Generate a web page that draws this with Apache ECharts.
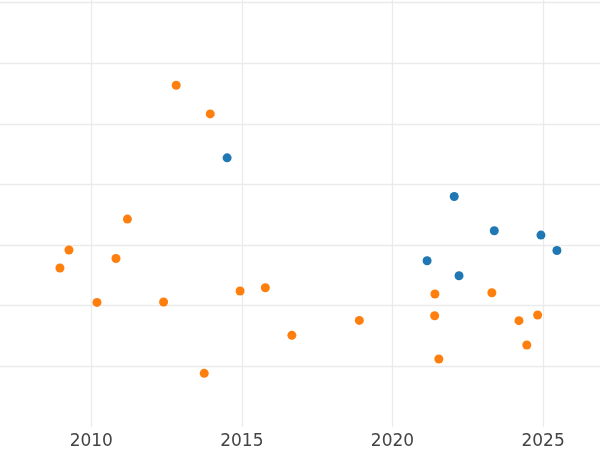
<!DOCTYPE html>
<html>
<head>
<meta charset="utf-8">
<script src="https://cdn.jsdelivr.net/npm/echarts@6/dist/echarts.min.js"></script>
<style>html,body{margin:0;padding:0;background:#fff}#c{width:600px;height:450px}</style>
</head>
<body>
<div id="c"></div>
<script>
// Series A (orange): [year, value]
const orangeYears = [2012.82, 2013.95, 2011.20, 2009.26, 2008.96, 2010.82, 2010.19, 2012.40, 2014.94, 2015.78, 2016.66, 2013.75, 2018.90, 2021.41, 2023.30, 2021.40, 2021.54, 2024.20, 2024.82, 2024.46];
const orangeValues = [5.636, 5.163, 3.428, 2.918, 2.621, 2.779, 2.054, 2.061, 2.242, 2.297, 1.511, 0.885, 1.758, 2.193, 2.214, 1.835, 1.122, 1.753, 1.847, 1.353];
// Series B (blue)
const blueYears = [2014.51, 2022.05, 2023.38, 2024.93, 2025.46, 2021.15, 2022.21];
const blueValues = [4.438, 3.801, 3.236, 3.165, 2.911, 2.741, 2.494];
const xTicks = [2010, 2015, 2020, 2025];

const chart = echarts.init(document.getElementById('c'), null, {renderer: 'canvas'});
const gridColor = '#ebebeb';
chart.setOption({
  animation: false,
  backgroundColor: '#ffffff',
  grid: {left: 0, right: 0, top: 0, bottom: 22.6, containLabel: false},
  xAxis: {
    type: 'value', min: 2006.97, max: 2026.89, minInterval: 5, maxInterval: 5,
    axisLine: {show: false}, axisTick: {show: false},
    axisLabel: {
      color: '#444444', fontSize: 17, fontFamily: 'DejaVu Sans', margin: 6,
      showMaxLabel: false, showMinLabel: false,
      formatter: v => xTicks.includes(Math.round(v * 100) / 100) ? String(v) : ''
    },
    splitLine: {show: true, showMinLine: false, showMaxLine: false, lineStyle: {color: gridColor, width: 1.3}}
  },
  yAxis: {
    type: 'value', min: 0, max: 7.041, minInterval: 1, maxInterval: 1,
    axisLine: {show: false}, axisTick: {show: false}, axisLabel: {show: false},
    splitLine: {show: true, showMinLine: false, showMaxLine: false, lineStyle: {color: gridColor, width: 1.3}}
  },
  series: [
    {type: 'scatter', symbolSize: 9, itemStyle: {color: '#1f77b4', opacity: 1},
     data: blueYears.map((x, i) => [x, blueValues[i]])},
    {type: 'scatter', symbolSize: 9, itemStyle: {color: '#ff7f0e', opacity: 1},
     data: orangeYears.map((x, i) => [x, orangeValues[i]])}
  ]
});
</script>
</body>
</html>
